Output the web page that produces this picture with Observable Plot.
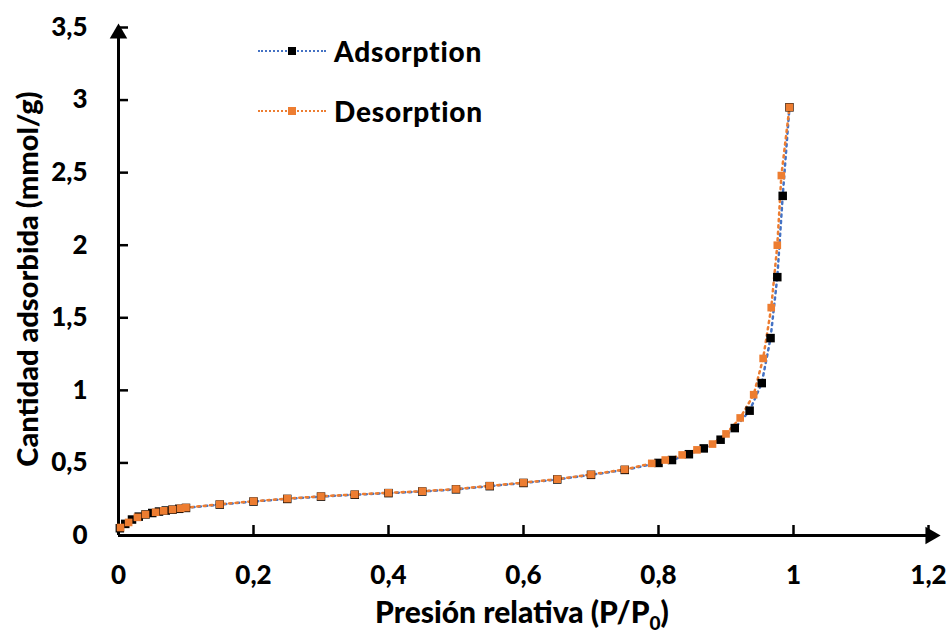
<!DOCTYPE html>
<html>
<head>
<meta charset="utf-8">
<script src="https://cdn.jsdelivr.net/npm/d3@7"></script>
<script src="https://cdn.jsdelivr.net/npm/@observablehq/plot@0.6"></script>
<style>
  body { margin: 0; background: #fff; }
  #wrap { position: relative; width: 950px; height: 637px; font-family: Lato, "Open Sans", sans-serif; }
  .leg { position: absolute; left: 258px; height: 30px; display: flex; align-items: center; font-weight: 900; font-size: 28px; letter-spacing: 0.8px; color: #000; }
  .leg .sw { position: relative; width: 68px; height: 0; border-top: 2.5px dotted; margin-right: 8px; }
  .leg .sq { position: absolute; left: 30px; top: -5.5px; width: 8px; height: 8px; }
</style>
</head>
<body>
<div id="wrap"></div>
<script>
// ---- data ----
const adsX = [0.002,0.01,0.02,0.03,0.04,0.05,0.06,0.07,0.08,0.09,0.1,0.15,0.2,0.25,0.3,0.35,0.4,0.45,0.5,0.55,0.6,0.65,0.7,0.75,0.8,0.82,0.845,0.867,0.892,0.913,0.935,0.953,0.966,0.976,0.984,0.994];
const adsY = [0.05,0.08,0.11,0.13,0.145,0.155,0.165,0.172,0.178,0.184,0.19,0.213,0.234,0.252,0.268,0.281,0.292,0.303,0.318,0.34,0.362,0.386,0.418,0.452,0.50,0.52,0.56,0.60,0.66,0.74,0.86,1.05,1.36,1.78,2.34,2.95];
const desX = [0.994,0.982,0.976,0.967,0.955,0.941,0.921,0.9,0.88,0.857,0.835,0.81,0.79,0.75,0.7,0.65,0.6,0.55,0.5,0.45,0.4,0.35,0.3,0.25,0.2,0.15,0.1,0.092,0.08,0.067,0.055,0.04,0.028,0.015,0.003];
const desY = [2.95,2.48,2.0,1.57,1.22,0.97,0.81,0.70,0.63,0.59,0.555,0.52,0.497,0.455,0.42,0.388,0.364,0.342,0.32,0.305,0.294,0.283,0.27,0.254,0.236,0.215,0.192,0.187,0.179,0.17,0.16,0.145,0.125,0.09,0.055];
const xTicks = [0,0.2,0.4,0.6,0.8,1,1.2];
const yTicks = [0,0.5,1,1.5,2,2.5,3,3.5];
const seriesNames = ["Adsorption","Desorption"];
const lineColors = ["#4472C4","#ED7D31"];
const markerColors = ["#000000","#ED7D31"];
const xLabel = ["Presión relativa (P/P", "0", ")"];
const yLabel = "Cantidad adsorbida (mmol/g)";

const ads = adsX.map((x,i)=>({x, y: adsY[i]}));
const des = desX.map((x,i)=>({x, y: desY[i]}));
const fmt = d => String(d).replace(".", ",");
const xMax = xTicks[xTicks.length-1], yMax = yTicks[yTicks.length-1];
const FONT = "Lato, 'Open Sans', sans-serif";

const chart = Plot.plot({
  width: 950, height: 637,
  marginLeft: 118, marginRight: 22, marginTop: 27, marginBottom: 102,
  style: {fontFamily: FONT, background: "#fff"},
  x: {domain: [0, xMax]},
  y: {domain: [0, yMax]},
  marks: [
    Plot.axisX({ticks: xTicks, tickFormat: fmt, tickSize: -10, tickPadding: 40, fontSize: 26, fontWeight: 900, strokeWidth: 2.5, label: null, color: "#000"}),
    Plot.axisY({ticks: yTicks, tickFormat: fmt, tickSize: -10, tickPadding: 41, fontSize: 26, fontWeight: 900, strokeWidth: 2.5, label: null, color: "#000"}),
    Plot.ruleY([0], {stroke: "#000", strokeWidth: 3, insetRight: -6}),
    Plot.ruleX([0], {stroke: "#000", strokeWidth: 3, insetTop: 8}),
    Plot.dot([{x: 0, y: yMax}], {x: "x", y: "y", symbol: "triangle", r: 6.5, fill: "#000", dy: 6}),
    Plot.dot([{x: xMax, y: 0}], {x: "x", y: "y", symbol: "triangle", r: 6.5, fill: "#000", rotate: 90, dx: 2}),
    Plot.line(ads, {x: "x", y: "y", stroke: lineColors[0], strokeWidth: 2.5, strokeDasharray: "2.2 4.2"}),
    Plot.line(des, {x: "x", y: "y", stroke: lineColors[1], strokeWidth: 2.5, strokeDasharray: "2.2 4.2", strokeDashoffset: 3}),
    Plot.dot(ads, {x: "x", y: "y", symbol: "square", r: 4.8, fill: markerColors[0]}),
    Plot.dot(des, {x: "x", y: "y", symbol: "square", r: 4.3, fill: markerColors[1]})
  ]
});

const wrap = document.getElementById("wrap");
wrap.appendChild(chart);

const svg = d3.select(chart);
const xl = svg.append("text")
  .attr("x", 522).attr("y", 623)
  .attr("text-anchor", "middle")
  .attr("font-family", FONT)
  .attr("font-size", 30).attr("font-weight", 900).attr("fill", "#000");
xl.append("tspan").text(xLabel[0]);
xl.append("tspan").attr("font-size", 19).attr("dy", 7).text(xLabel[1]);
xl.append("tspan").attr("dy", -7).text(xLabel[2]);

svg.append("text")
  .attr("transform", "translate(26,279) rotate(-90)")
  .attr("text-anchor", "middle")
  .attr("dominant-baseline", "central")
  .attr("font-family", FONT)
  .attr("font-size", 29).attr("font-weight", 900).attr("fill", "#000")
  .text(yLabel);

// legend
const legTops = [36, 96];
seriesNames.forEach((name, i) => {
  const row = document.createElement("div");
  row.className = "leg";
  row.style.top = legTops[i] + "px";
  const sw = document.createElement("span");
  sw.className = "sw";
  sw.style.borderTopColor = lineColors[i];
  const sq = document.createElement("span");
  sq.className = "sq";
  sq.style.background = markerColors[i];
  sw.appendChild(sq);
  const t = document.createElement("span");
  t.textContent = name;
  row.appendChild(sw);
  row.appendChild(t);
  wrap.appendChild(row);
});
</script>
</body>
</html>
